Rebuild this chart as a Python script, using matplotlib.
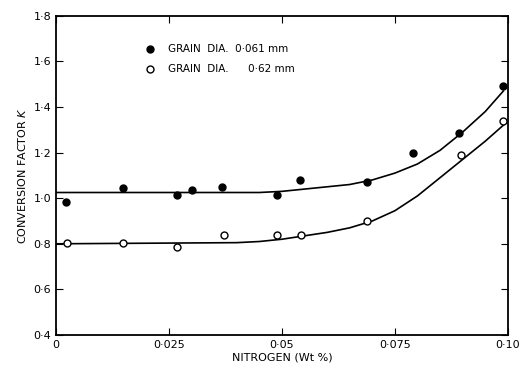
import matplotlib
matplotlib.use("Agg")
import matplotlib.pyplot as plt

# measured points, grain dia. 0.061 mm (filled)
n_filled = [0.0022, 0.0148, 0.0268, 0.030, 0.0367, 0.0489, 0.054, 0.0688, 0.079, 0.0892, 0.0989]
k_filled = [0.985, 1.045, 1.014, 1.036, 1.049, 1.014, 1.08, 1.071, 1.198, 1.286, 1.492]

# measured points, grain dia. 0.62 mm (open)
n_open = [0.0024, 0.0148, 0.0268, 0.0372, 0.0489, 0.0542, 0.0688, 0.0896, 0.099]
k_open = [0.803, 0.803, 0.786, 0.839, 0.839, 0.839, 0.90, 1.19, 1.34]

# fitted curves
curve_up_n = [0, 0.045, 0.05, 0.055, 0.06, 0.065, 0.07, 0.075, 0.08, 0.085, 0.09, 0.095, 0.099]
curve_up_k = [1.025, 1.025, 1.03, 1.04, 1.05, 1.06, 1.08, 1.11, 1.15, 1.21, 1.29, 1.38, 1.47]
curve_lo_n = [0, 0.04, 0.045, 0.05, 0.055, 0.06, 0.065, 0.07, 0.075, 0.08, 0.085, 0.09, 0.095, 0.099]
curve_lo_k = [0.80, 0.805, 0.81, 0.82, 0.835, 0.85, 0.87, 0.90, 0.945, 1.01, 1.09, 1.17, 1.25, 1.32]

xticks = [0, 0.025, 0.05, 0.075, 0.10]
xlabels = ["0", "0·025", "0·05", "0·075", "0·10"]
yticks = [0.4, 0.6, 0.8, 1.0, 1.2, 1.4, 1.6, 1.8]
ylabels = ["0·4", "0·6", "0·8", "1·0", "1·2", "1·4", "1·6", "1·8"]

fig = plt.figure(figsize=(5.23, 3.72), dpi=100)
ax = fig.add_axes([0.107, 0.0995, 0.864, 0.858])

ax.plot(curve_up_n, curve_up_k, color="black", lw=1.2)
ax.plot(curve_lo_n, curve_lo_k, color="black", lw=1.2)
ax.plot(n_filled, k_filled, "o", color="black", ms=5)
ax.plot(n_open, k_open, "o", mfc="white", mec="black", mew=1, ms=5)

ax.set_xlim(0, 0.10)
ax.set_ylim(0.4, 1.8)
ax.set_xticks(xticks)
ax.set_xticklabels(xlabels)
ax.set_yticks(yticks)
ax.set_yticklabels(ylabels)
ax.tick_params(direction="in", top=True, right=True, labelsize=8, length=5)
for s in ax.spines.values():
    s.set_linewidth(1.3)

ax.set_xlabel("NITROGEN (Wt %)", fontsize=8, labelpad=2)
ax.set_ylabel("CONVERSION FACTOR $\\mathit{K}$", fontsize=8, labelpad=4)

# legend drawn as text like the original
ax.plot([0.0208], [1.655], "o", color="black", ms=5)
ax.plot([0.0208], [1.567], "o", mfc="white", mec="black", mew=1, ms=5)
ax.text(0.0248, 1.655, "GRAIN  DIA.  0·061 mm", fontsize=7.5, va="center")
ax.text(0.0248, 1.567, "GRAIN  DIA.      0·62 mm", fontsize=7.5, va="center")

fig.savefig("out.png", dpi=100)
